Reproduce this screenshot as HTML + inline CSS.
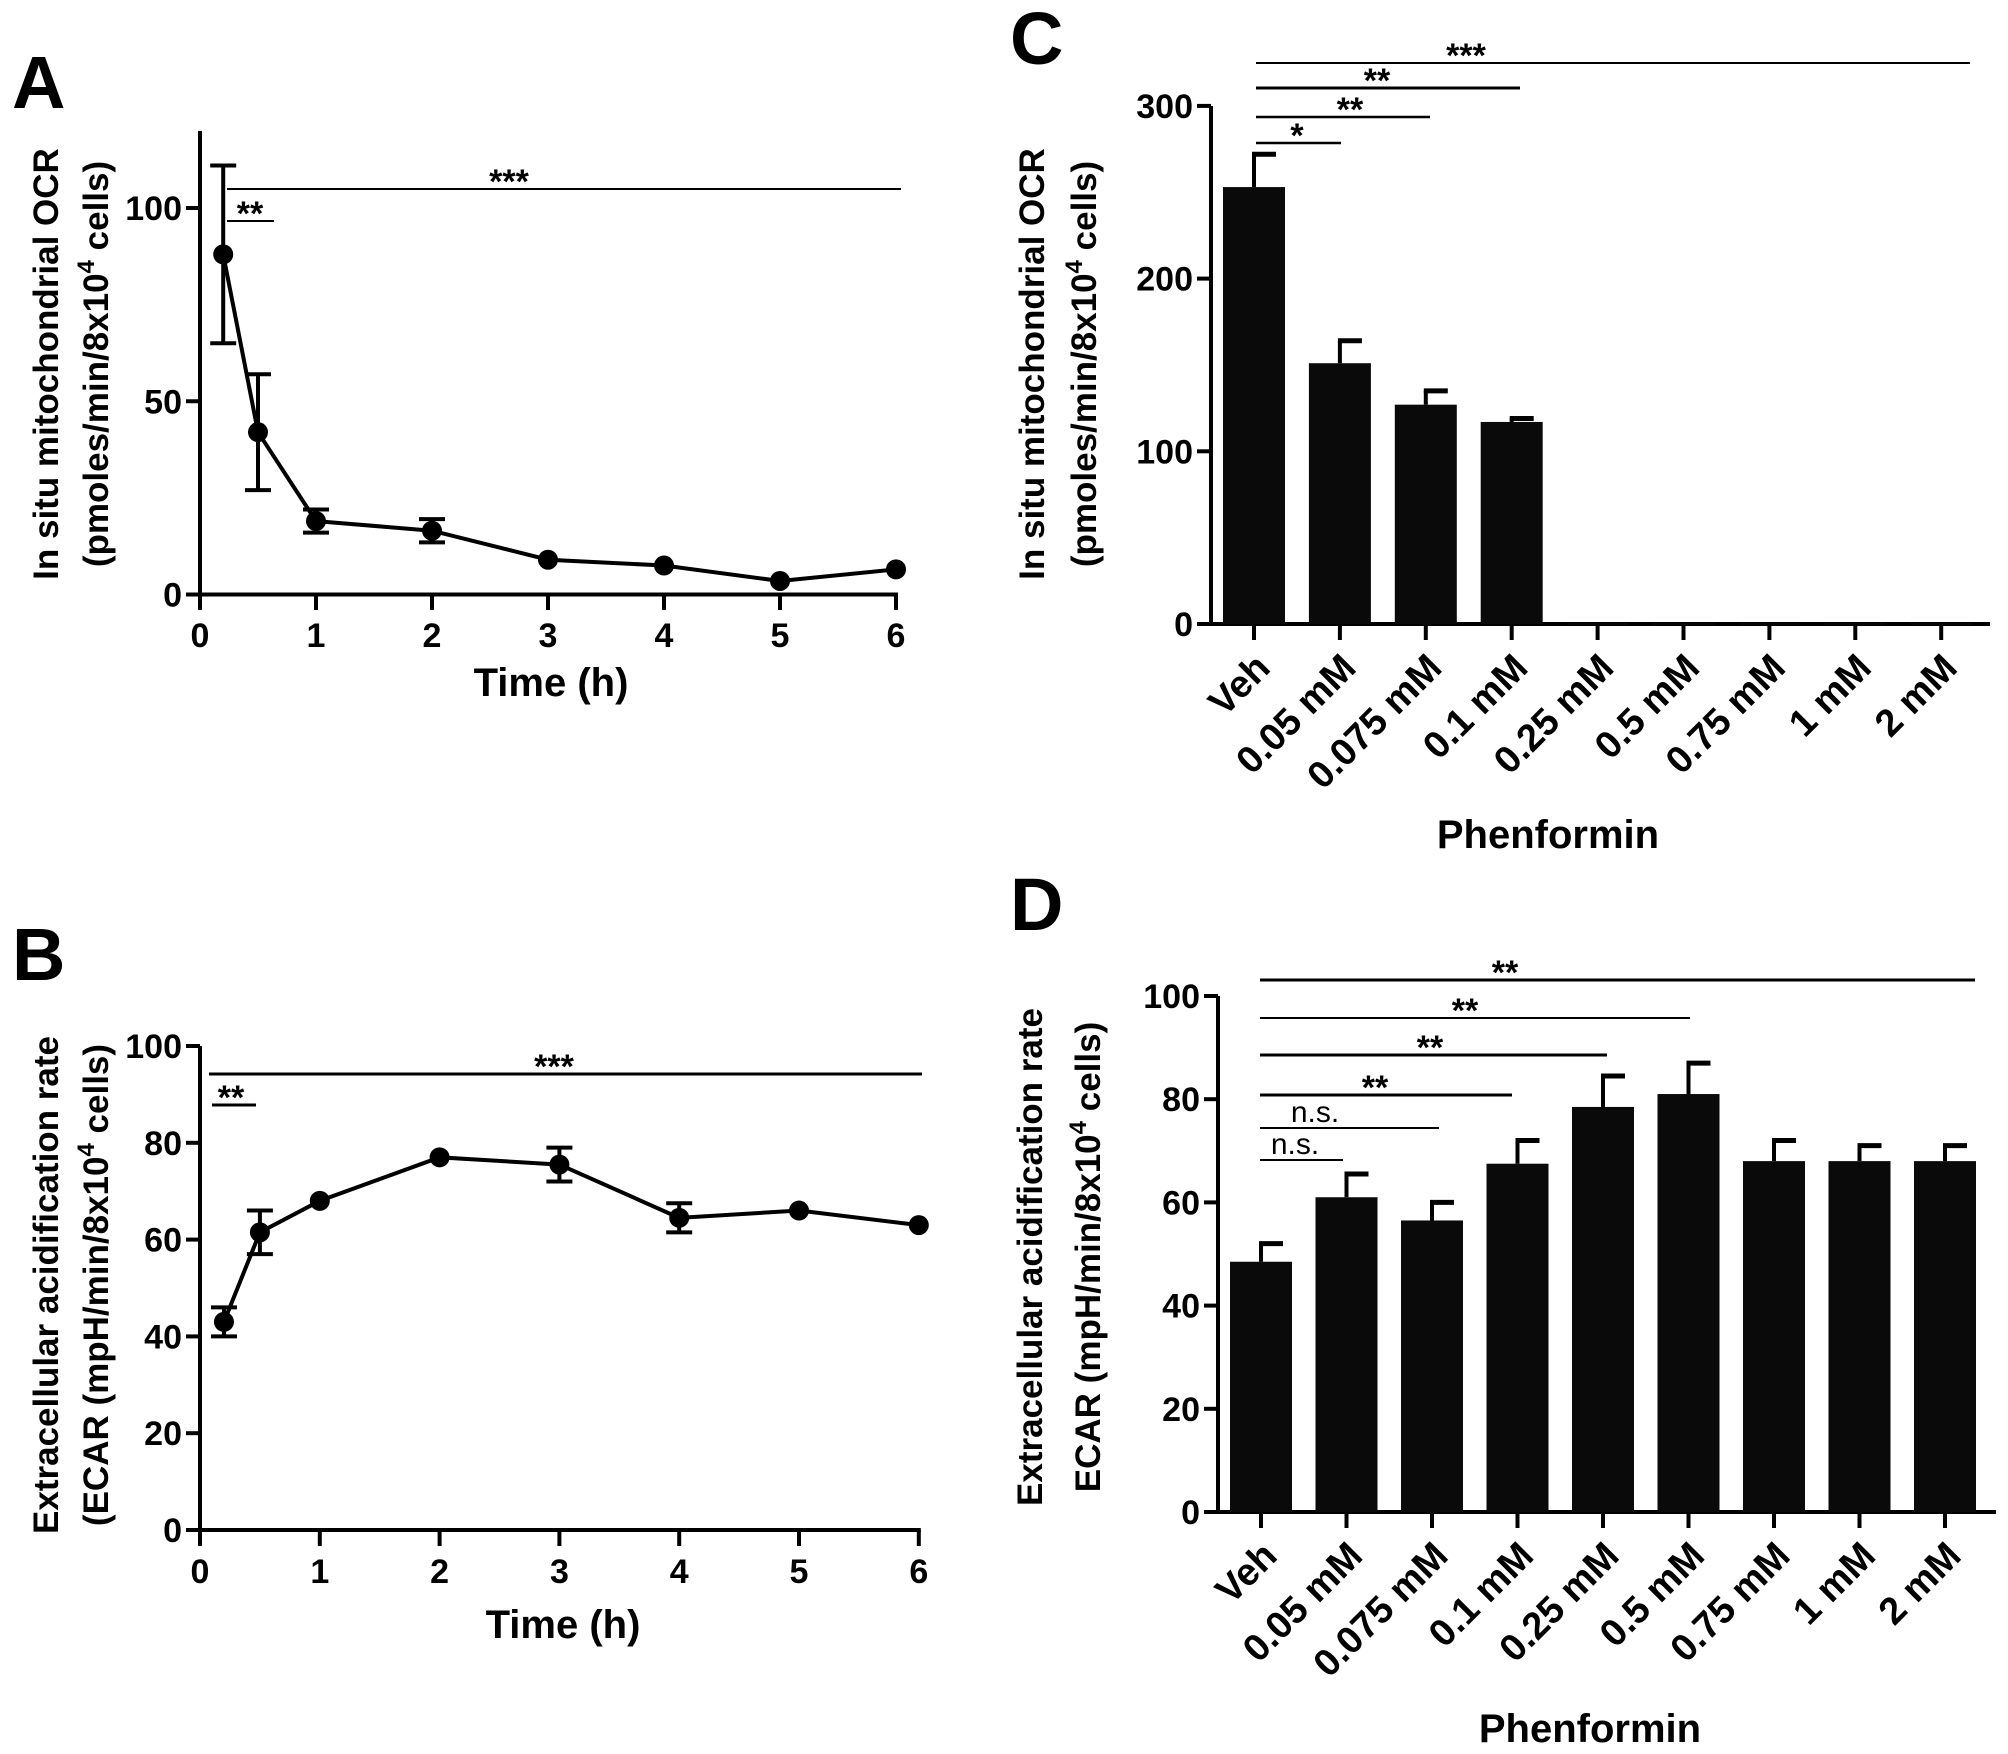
<!DOCTYPE html>
<html><head><meta charset="utf-8"><style>
body{margin:0;background:#fff}
svg{display:block;font-family:"Liberation Sans",Arial,sans-serif;font-weight:bold}
</style></head><body>
<svg id="fig" width="2008" height="1754" viewBox="0 0 2008 1754" xmlns="http://www.w3.org/2000/svg"></svg>
<script>
// Panel A data
const aTimes=[0.2,0.5,1,2,3,4,5,6];
const aMeans=[88,42,19,16.5,9,7.5,3.5,6.5];
const aErr=[23,15,3,3,1,1,1,1];
const aYTicks=[0,50,100];
const xTicksTime=[0,1,2,3,4,5,6];
// Panel B data
const bTimes=[0.2,0.5,1,2,3,4,5,6];
const bMeans=[43,61.5,68,77,75.5,64.5,66,63];
const bErr=[3,4.5,1,1,3.5,3,1,1];
const bYTicks=[0,20,40,60,80,100];
// Panel C/D data
const cats=["Veh","0.05 mM","0.075 mM","0.1 mM","0.25 mM","0.5 mM","0.75 mM","1 mM","2 mM"];
const cMeans=[253,151,127,117,0.5,0.5,0.5,0.5,0.5];
const cErr=[19,13,8,2,0,0,0,0,0];
const cYTicks=[0,100,200,300];
const dMeans=[48.5,61,56.5,67.5,78.5,81,68,68,68];
const dErr=[3.5,4.5,3.5,4.5,6,6,4,3,3];
const dYTicks=[0,20,40,60,80,100];

const NS="http://www.w3.org/2000/svg";
const svg=document.getElementById('fig');
function el(tag,attrs,parent,txt){const e=document.createElementNS(NS,tag);for(const k in attrs)e.setAttribute(k,attrs[k]);if(txt!==undefined)e.textContent=txt;(parent||svg).appendChild(e);return e;}
function grp(name){const g=el('g',{});return g;}

function letter(t,x,y){const e=el('text',{x:x,y:y,'font-size':74},svg,t);}

function yTitle(lines,cx,cy,name){
  const g=grp(name);
  lines.forEach((ln,i)=>{const t=el('text',{x:0,y:0,'font-size':35,'text-anchor':'middle',transform:`translate(${ln.x},${cy}) rotate(-90)`},g);
    ln.parts.forEach(p=>{const s=el('tspan',p.sup?{'font-size':24,dy:-14}:(p.after?{dy:14}:{}),t,p.t);});});
}
const tiny=(t)=>({t:t});

function yAxis(x,y0,yTop,ticks,scale,name){
  const g=grp(name);
  el('line',{x1:x,y1:y0+2,x2:x,y2:yTop,stroke:'#000','stroke-width':4},g);
  ticks.forEach(v=>{const y=scale(v);el('line',{x1:x-14,y1:y,x2:x,y2:y,stroke:'#000','stroke-width':4},g);
    const t=el('text',{x:x-18,y:y+12,'font-size':34,'text-anchor':'end'},g,String(v));});
}
function sig(x1,x2,y,label,tx,name,w){
  const g=grp(name);
  el('line',{x1:x1,y1:y,x2:x2,y2:y,stroke:'#000','stroke-width':w||2.5},g);
  el('text',{x:tx,y:label==='n.s.'?y-6:y+4,'font-size':label==='n.s.'?30:34,'font-weight':label==='n.s.'?'normal':'bold','text-anchor':'middle'},g,label);
}

// ---------- Panel A ----------
letter('A',12,108);
const axA=200, aX=t=>axA+t*116, aY=v=>594.5-v*3.865;
yAxis(axA,594.5,131,aYTicks,aY,'panel-a-y-axis');
(function(){const g=grp('panel-a-x-axis');
 el('line',{x1:axA-2,y1:594.5,x2:aX(6)+2,y2:594.5,stroke:'#000','stroke-width':4},g);
 xTicksTime.forEach(t=>{el('line',{x1:aX(t),y1:594.5,x2:aX(t),y2:610,stroke:'#000','stroke-width':4},g);
 const e=el('text',{x:aX(t),y:647,'font-size':34,'text-anchor':'middle'},g,String(t));});
 const tt=el('text',{x:551,y:696,'font-size':40,'text-anchor':'middle'},svg,'Time (h)');})();
yTitle([{x:58,parts:[tiny('In situ mitochondrial OCR')]},{x:108,parts:[tiny('(pmoles/min/8x10'),{t:'4',sup:1},{t:' cells)',after:1}]}],0,364,'panel-a-y-title');
function lineSeries(xs,ms,es,X,Y,name){
  const g=grp(name);
  el('polyline',{points:xs.map((t,i)=>X(t)+','+Y(ms[i])).join(' '),fill:'none',stroke:'#000','stroke-width':4},g);
  xs.forEach((t,i)=>{const x=X(t);
    if(es[i]>1.2){el('line',{x1:x,y1:Y(ms[i]-es[i]),x2:x,y2:Y(ms[i]+es[i]),stroke:'#000','stroke-width':4},g);
      [ms[i]-es[i],ms[i]+es[i]].forEach(v=>el('line',{x1:x-13,y1:Y(v),x2:x+13,y2:Y(v),stroke:'#000','stroke-width':4},g));}
    const c=el('circle',{cx:x,cy:Y(ms[i]),r:10,fill:'#000'},g);});
}
lineSeries(aTimes,aMeans,aErr,aX,aY,'panel-a-series');
sig(227,901,189,'***',509,'panel-a-sig-1',2);
sig(227,274,221,'**',250,'panel-a-sig-2',2);

// ---------- Panel B ----------
letter('B',12,980);
const axB=200, bX=t=>axB+t*119.8, bY=v=>1530-v*4.84;
yAxis(axB,1530,1046,bYTicks,bY,'panel-b-y-axis');
(function(){const g=grp('panel-b-x-axis');
 el('line',{x1:axB-2,y1:1530,x2:bX(6)+2,y2:1530,stroke:'#000','stroke-width':4},g);
 xTicksTime.forEach(t=>{el('line',{x1:bX(t),y1:1530,x2:bX(t),y2:1546,stroke:'#000','stroke-width':4},g);
 const e=el('text',{x:bX(t),y:1583,'font-size':34,'text-anchor':'middle'},g,String(t));});
 const tt=el('text',{x:563,y:1638,'font-size':40,'text-anchor':'middle'},svg,'Time (h)');})();
yTitle([{x:58,parts:[tiny('Extracellular acidification rate')]},{x:108,parts:[tiny('(ECAR (mpH/min/8x10'),{t:'4',sup:1},{t:' cells)',after:1}]}],0,1285,'panel-b-y-title');
lineSeries(bTimes,bMeans,bErr,bX,bY,'panel-b-series');
sig(209,922,1074,'***',554,'panel-b-sig-1',3);
sig(212,256,1105,'**',231,'panel-b-sig-2',3);

// ---------- Bar panels ----------
function barPanel(p){
  const {ax,y0,yTop,ticks,Y,means,errs,x0,step,xEnd,name}=p;
  yAxis(ax,y0,yTop,ticks,Y,name+'-y-axis');
  const g=grp(name+'-x-axis');
  el('line',{x1:ax-2,y1:y0,x2:xEnd,y2:y0,stroke:'#000','stroke-width':4},g);
  const bars=grp(name+'-bars');
  cats.forEach((c,i)=>{const x=x0+i*step;
    el('line',{x1:x,y1:y0,x2:x,y2:y0+16,stroke:'#000','stroke-width':4},g);
    const t=el('text',{x:0,y:0,'font-size':38,'text-anchor':'end',transform:`translate(${x+18},${y0+46}) rotate(-45)`},g,c);
    
    const top=Y(means[i]);
    if(errs[i]>0){el('line',{x1:x,y1:top,x2:x,y2:Y(means[i]+errs[i]),stroke:'#000','stroke-width':4},bars);
      el('line',{x1:x-2,y1:Y(means[i]+errs[i]),x2:x+22,y2:Y(means[i]+errs[i]),stroke:'#000','stroke-width':5},bars);}
    const r=el('rect',{x:x-31,y:top,width:62,height:Math.max(y0-top,1.5),fill:'#0a0a0a'},bars);
    
  });
}
// Panel C
letter('C',1010,64);
const cY=v=>624-v*1.727;
barPanel({ax:1211,y0:624,yTop:106,ticks:cYTicks,Y:cY,means:cMeans,errs:cErr,x0:1254,step:85.9,xEnd:1990,name:'panel-c'});
yTitle([{x:1044,parts:[tiny('In situ mitochondrial OCR')]},{x:1096,parts:[tiny('(pmoles/min/8x10'),{t:'4',sup:1},{t:' cells)',after:1}]}],0,364,'panel-c-y-title');
(function(){const t=el('text',{x:1548,y:848,'font-size':40,'text-anchor':'middle'},svg,'Phenformin');})();
sig(1256,1970,63,'***',1466,'panel-c-sig-1',2);
sig(1256,1520,88,'**',1377,'panel-c-sig-2',3);
sig(1256,1430,117,'**',1350,'panel-c-sig-3',2.5);
sig(1256,1341,143,'*',1297,'panel-c-sig-4',2.5);
// Panel D
letter('D',1010,930);
const dY=v=>1512-v*5.16;
barPanel({ax:1218,y0:1512,yTop:996,ticks:dYTicks,Y:dY,means:dMeans,errs:dErr,x0:1261,step:85.5,xEnd:1996,name:'panel-d'});
yTitle([{x:1042,parts:[tiny('Extracellular acidification rate')]},{x:1100,parts:[tiny('ECAR (mpH/min/8x10'),{t:'4',sup:1},{t:' cells)',after:1}]}],0,1257,'panel-d-y-title');
(function(){const t=el('text',{x:1590,y:1742,'font-size':40,'text-anchor':'middle'},svg,'Phenformin');})();
sig(1260,1975,980,'**',1505,'panel-d-sig-1',3);
sig(1260,1690,1018,'**',1465,'panel-d-sig-2',2);
sig(1260,1607,1055,'**',1430,'panel-d-sig-3',3);
sig(1260,1512,1095,'**',1375,'panel-d-sig-4',3);
sig(1260,1439,1128,'n.s.',1315,'panel-d-sig-5',2);
sig(1260,1343,1160,'n.s.',1295,'panel-d-sig-6',2);
</script>
</body></html>
